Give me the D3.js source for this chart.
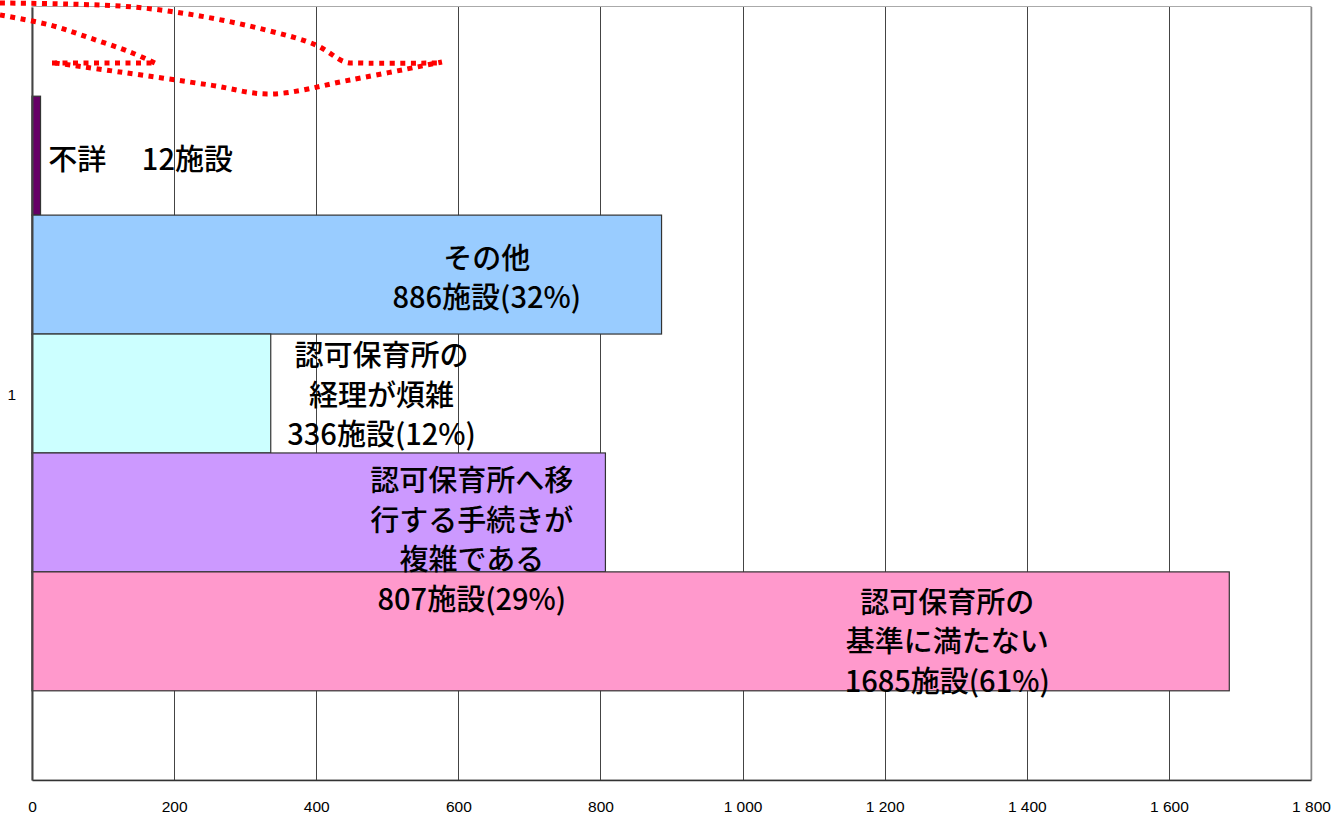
<!DOCTYPE html>
<html><head><meta charset="utf-8">
<script src="https://cdn.jsdelivr.net/npm/d3@7"></script>
<style>
html,body{margin:0;padding:0;background:#fff;}
svg{display:block;}
.tick text{font-family:'Liberation Sans', Arial, sans-serif; font-size:15.5px; fill:#000;}
</style></head>
<body>
<svg id="chart" width="1335" height="818"></svg>
<script>
// ---- data ----
const category = "1";
const seriesKeys = ["不詳", "その他", "経理", "移行", "基準"];
const seriesValues = [12, 886, 336, 807, 1685];
const seriesColors = ["#660066", "#99CCFF", "#CCFFFF", "#CC99FF", "#FF99CC"];
const seriesLabels = [
  ["不詳　 12施設"],
  ["その他", "886施設(32%)"],
  ["認可保育所の", "経理が煩雑", "336施設(12%)"],
  ["認可保育所へ移", "行する手続きが", "複雑である", "807施設(29%)"],
  ["認可保育所の", "基準に満たない", "1685施設(61%)"]
];
const xTicks = [0, 200, 400, 600, 800, 1000, 1200, 1400, 1600, 1800];

// label anchor (data units along x) used for annotation placement
const labelAnchor = [23, 640, 492, 619, 1288];
const labelAlign = ["start", "middle", "middle", "middle", "middle"];

// ---- layout ----
const W = 1335, H = 818;
const m = {top: 7, right: 24, bottom: 38, left: 32};
const svg = d3.select("#chart");

const x = d3.scaleLinear().domain([0, 1800]).range([m.left, W - m.right]);
const yCat = d3.scaleBand().domain([category]).range([m.top, H - m.bottom]);
const y = d3.scaleBand().domain(seriesKeys).range([yCat(category), yCat(category) + yCat.bandwidth()])
  .paddingInner(0).paddingOuter(0.75);

const fmt = d3.formatLocale({decimal: ".", thousands: " ", grouping: [3], currency: ["", ""]}).format(",");

// plot border (top/right)
svg.append("rect").attr("x", m.left).attr("y", m.top - 0.5)
  .attr("width", x(1800) - m.left).attr("height", H - m.bottom - m.top + 0.5)
  .attr("fill", "none").attr("stroke", "#aaa").attr("stroke-width", 1);

// gridlines
svg.append("g").selectAll("line").data(xTicks.slice(1, -1)).join("line")
  .attr("x1", d => Math.round(x(d)) + 0.5).attr("x2", d => Math.round(x(d)) + 0.5)
  .attr("y1", m.top).attr("y2", H - m.bottom)
  .attr("stroke", "#444").attr("stroke-width", 1);
svg.append("line")
  .attr("x1", Math.round(x(1800)) + 0.5).attr("x2", Math.round(x(1800)) + 0.5)
  .attr("y1", m.top).attr("y2", H - m.bottom)
  .attr("stroke", "#888").attr("stroke-width", 1.5);

// bars
const rows = seriesKeys.map((k, i) => ({key: k, value: seriesValues[i], color: seriesColors[i], lines: seriesLabels[i], anchor: labelAnchor[i], align: labelAlign[i]}));
svg.append("g").selectAll("rect").data(rows).join("rect")
  .attr("x", x(0)).attr("y", d => y(d.key))
  .attr("width", d => x(d.value) - x(0)).attr("height", y.bandwidth())
  .attr("fill", d => d.color).attr("stroke", "#333").attr("stroke-width", 1.2);

// x axis
const xAxis = svg.append("g").attr("transform", `translate(0,${H - m.bottom})`)
  .call(d3.axisBottom(x).tickValues(xTicks).tickFormat(fmt).tickSize(0).tickPadding(21));
xAxis.select(".domain").attr("stroke", "#333").attr("stroke-width", 1.5);

// y axis
const yAxis = svg.append("g").attr("transform", `translate(${m.left},0)`)
  .call(d3.axisLeft(yCat).tickSize(0).tickPadding(16));
yAxis.select(".domain").attr("stroke", "#444").attr("stroke-width", 2);
yAxis.selectAll("text").attr("dy", "0.4em");

// labels
const lineH = 39.5;
const yNudge = [14, 14, 12, 12, 21];
const lg = svg.append("g").attr("font-family", "'Noto Sans CJK JP', sans-serif").attr("font-size", 29)
  .attr("font-weight", 500).attr("fill", "#000").style("white-space", "pre");
rows.forEach((d, i) => {
  const cy = y(d.key) + y.bandwidth() / 2 + (i === 3 ? 26 : 0);
  const n = d.lines.length;
  const t = lg.append("text")
    .attr("text-anchor", d.align)
    .attr("x", x(d.anchor));
  d.lines.forEach((s, j) => {
    t.append("tspan").attr("x", x(d.anchor))
      .attr("y", cy + (j - (n - 1) / 2) * lineH + yNudge[i])
      .text(s);
  });
});

// red dotted decorative arrows at top
const dotted = d3.line().curve(d3.curveCatmullRom.alpha(0.5));
const paths = [
  [[0,3],[66,4],[133,7],[200,16],[266,30],[316,45],[345,62],[360,63],[442,63]],
  [[0,15],[50,25],[90,38],[130,52],[157,64]],
  [[52,63],[152,63]],
  [[55,63],[120,72],[210,85],[270,94],[350,80],[442,62]]
];
svg.append("g").selectAll("path").data(paths).join("path")
  .attr("d", d => dotted(d)).attr("fill", "none")
  .attr("stroke", "#FF0000").attr("stroke-width", 5).attr("stroke-dasharray", "5,5.5");
</script>
</body></html>
